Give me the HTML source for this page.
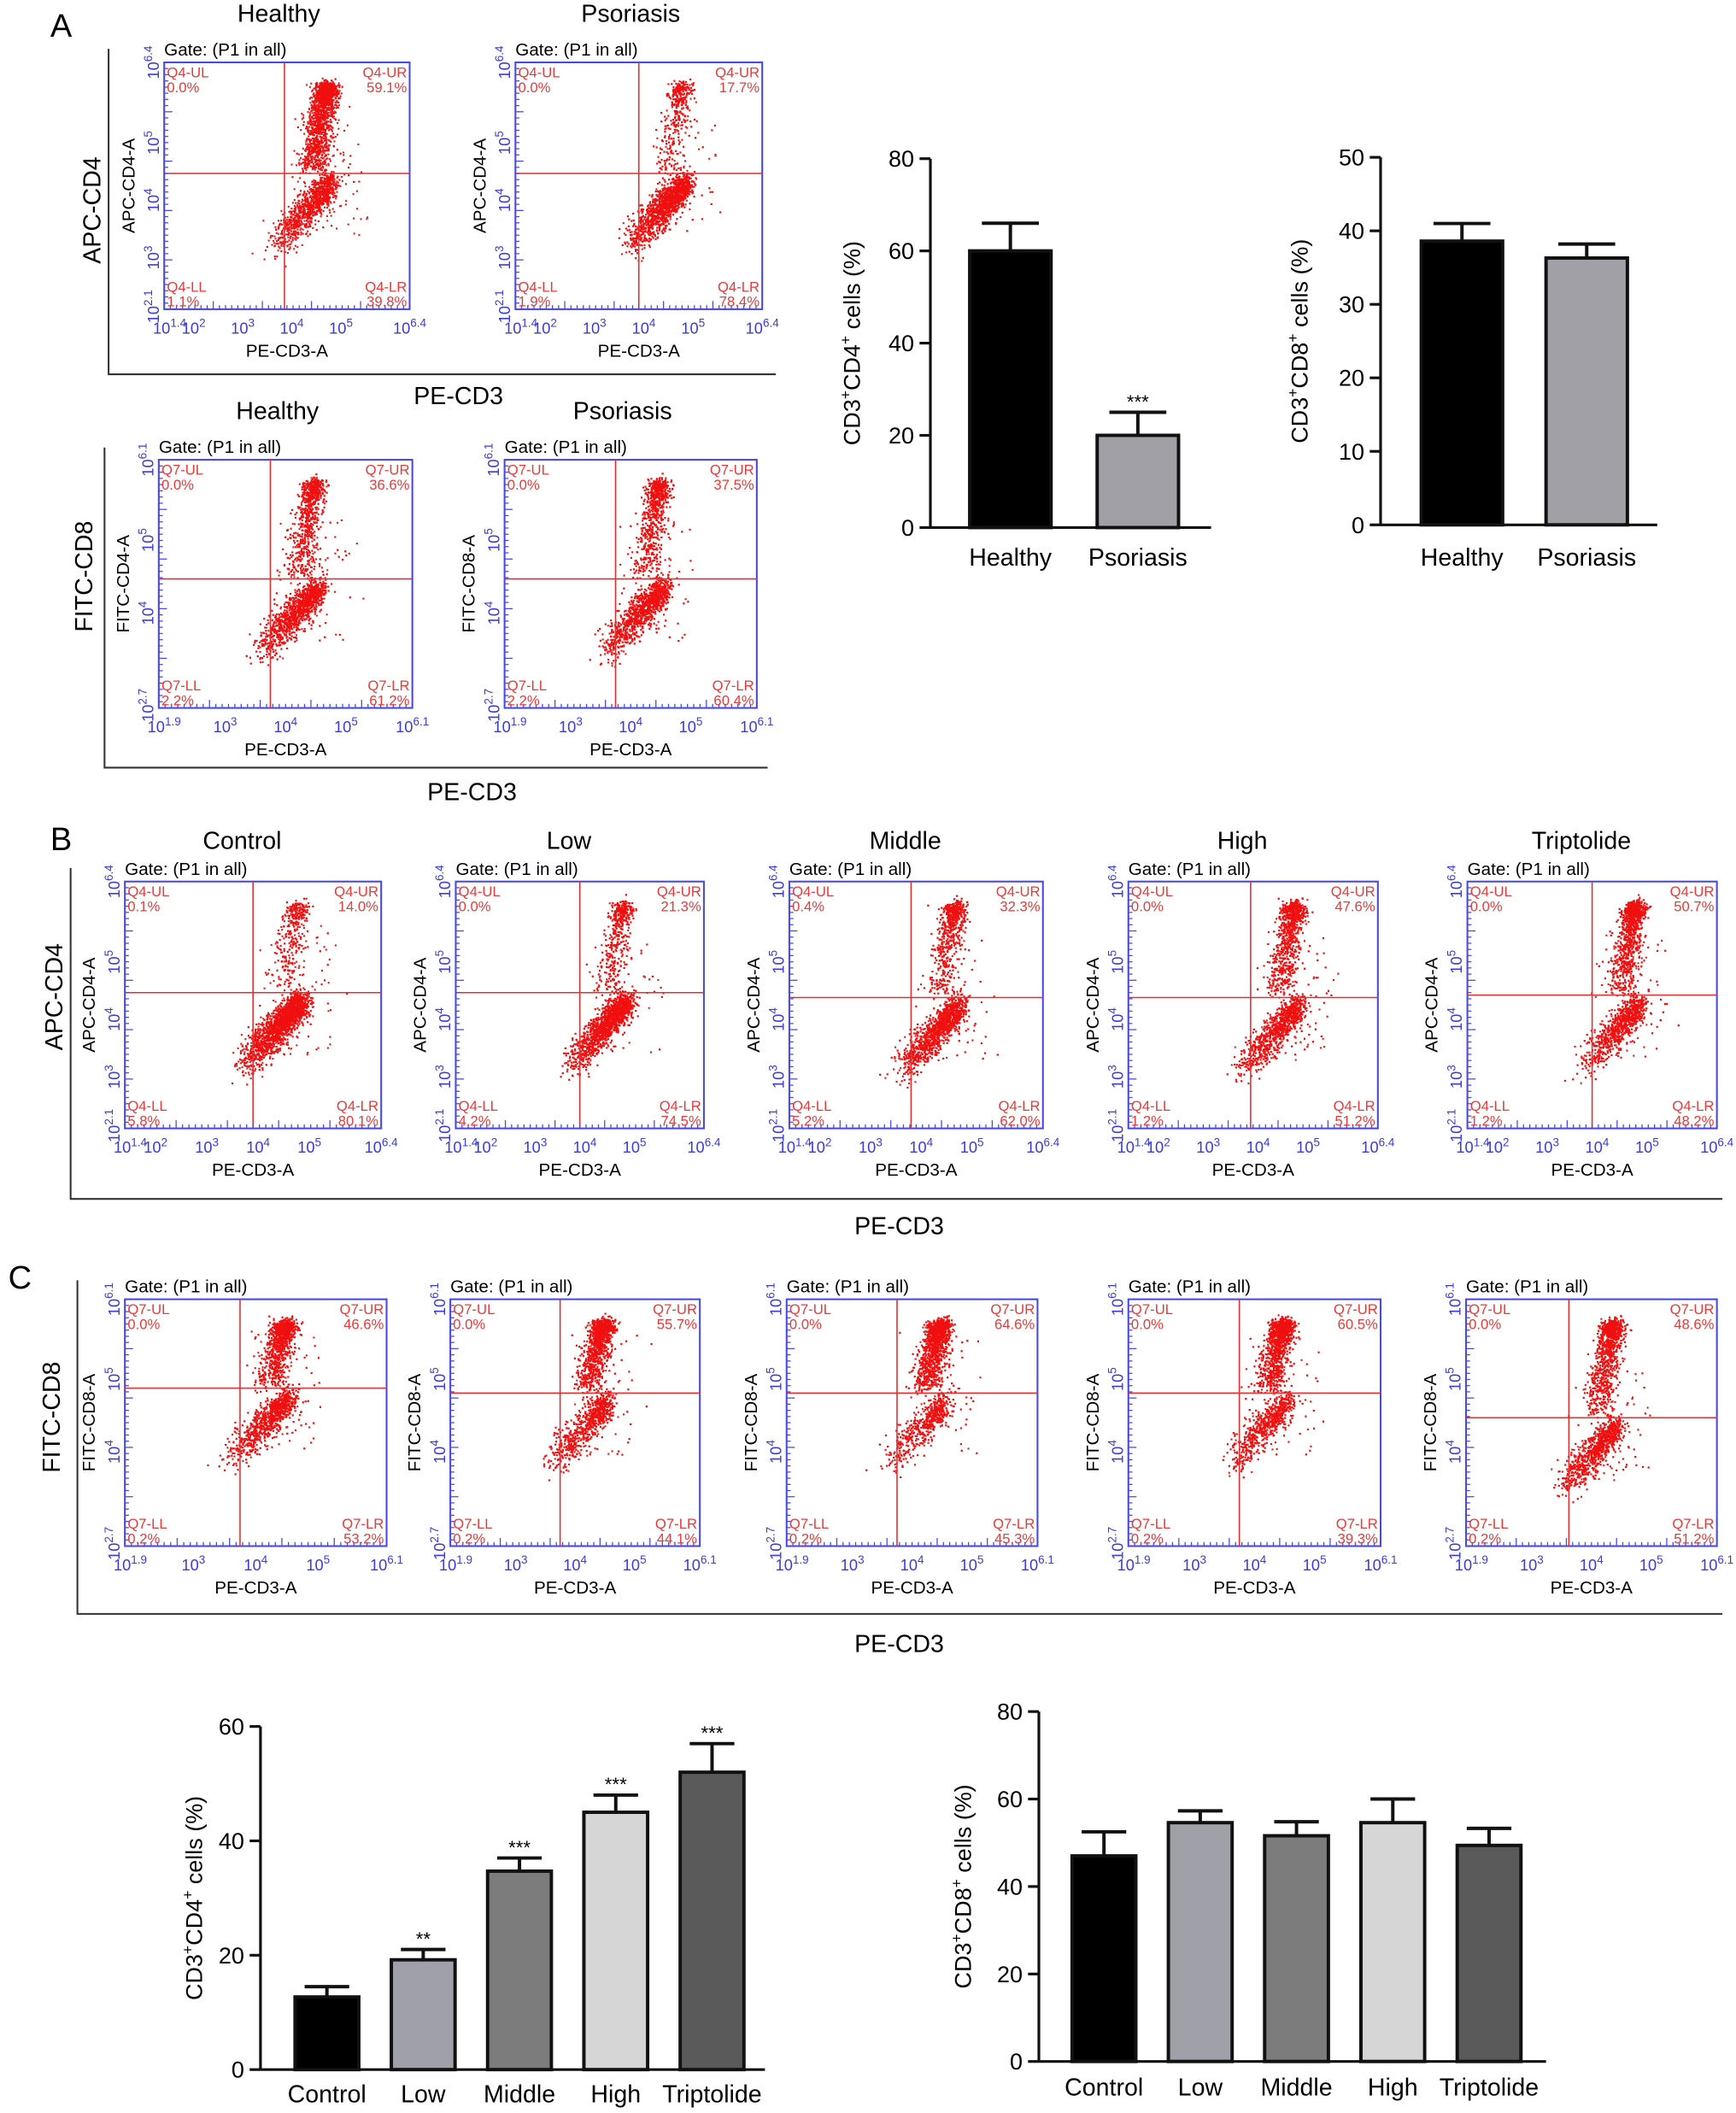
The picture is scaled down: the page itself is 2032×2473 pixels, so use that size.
<!DOCTYPE html>
<html><head><meta charset="utf-8">
<style>
html,body{margin:0;padding:0;background:#fff;}
svg{display:block;font-family:"Liberation Sans",Arial,sans-serif;}
</style></head>
<body>
<svg id="fig" width="2032" height="2473" viewBox="0 0 1280 1558" xmlns="http://www.w3.org/2000/svg">
<rect width="1280" height="1558" fill="#fff"/>
<g id="static" font-size="20">
<text x="37" y="27" font-size="24">A</text>
<text x="37" y="627" font-size="24">B</text>
<text x="6" y="950" font-size="24">C</text>
</g>
<g id="flows"></g>
<g id="bars"></g>
</svg>
<script>
const NS="http://www.w3.org/2000/svg";
const svg=document.getElementById('fig');
const flows=document.getElementById('flows');
const barsG=document.getElementById('bars');
function mk(tag,attrs,parent,txt){const e=document.createElementNS(NS,tag);for(const k in attrs)e.setAttribute(k,attrs[k]);if(txt!==undefined)e.textContent=txt;(parent||svg).appendChild(e);return e;}

// ---------- Flow panel data ----------
const flowTitles=["Healthy","Psoriasis","Healthy","Psoriasis","Control","Low","Middle","High","Triptolide","","","","",""];
const flowUL=["0.0%","0.0%","0.0%","0.0%","0.1%","0.0%","0.4%","0.0%","0.0%","0.0%","0.0%","0.0%","0.0%","0.0%"];
const flowUR=["59.1%","17.7%","36.6%","37.5%","14.0%","21.3%","32.3%","47.6%","50.7%","46.6%","55.7%","64.6%","60.5%","48.6%"];
const flowLL=["1.1%","1.9%","2.2%","2.2%","5.8%","4.2%","5.2%","1.2%","1.2%","0.2%","0.2%","0.2%","0.2%","0.2%"];
const flowLR=["39.8%","78.4%","61.2%","60.4%","80.1%","74.5%","62.0%","51.2%","48.2%","53.2%","44.1%","45.3%","39.3%","51.2%"];
const flowType=["cd4","cd4","cd8","cd8","cd4","cd4","cd4","cd4","cd4","cd8","cd8","cd8","cd8","cd8"];

const boxes=[[121,46,181,182],[380,46,182,182],[117,339,187,183],[372,339,186,183],
[92,650,189,182],[336,650,183,182],[582,650,187,182],[832,650,184,182],[1082,650,184,182],
[92,958,193,182],[332,958,184,182],[580,958,185,182],[832,958,186,182],[1081,958,185,182]];
const gates=[[0.49,0.45],[0.5,0.45],[0.44,0.48],[0.44,0.48],[0.5,0.45],[0.5,0.45],[0.48,0.47],[0.49,0.47],[0.5,0.46],
[0.44,0.36],[0.44,0.38],[0.44,0.38],[0.44,0.38],[0.41,0.48]];

let seed=12345;
function rnd(){seed=(seed*1103515245+12345)%2147483648;return seed/2147483648;}
function gauss(){let u=rnd()||1e-6,v=rnd();return Math.sqrt(-2*Math.log(u))*Math.cos(2*Math.PI*v);}
function sup(parent,x,y,base,exp,anchor,rot){
  const t=mk('text',{x:x,y:y,'text-anchor':anchor||'middle',fill:'#3b3bdb','font-size':11.5},parent);
  if(rot)t.setAttribute('transform',`rotate(-90 ${x} ${y})`);
  mk('tspan',{},t,base);mk('tspan',{dy:-5,'font-size':8.5},t,exp);
  return t;
}
function drawFlow(i){
  const [x,y,w,h]=boxes[i];const [gx,gy]=gates[i];
  const g=mk('g',{},flows);
  
  
  if(flowTitles[i]){const t=mk('text',{x:x+w/2+(i<4?-6:-8),y:y-24-(i<4?6:0),'text-anchor':'middle','font-size':18},g,flowTitles[i]);}
  mk('text',{x:x,y:y-5,'font-size':13},g,'Gate: (P1 in all)');
  const q=flowType[i]==='cd8'?'Q7':'Q4';
  const ur=parseFloat(flowUR[i])/100;
  const N=3200;const dots=mk('g',{fill:'#f01010'},g);
  for(let k=0;k<N;k++){
    let px,py;
    const r=rnd();
    if(r<ur){ // upper cluster, dense near top
      const t=Math.pow(rnd(),2.2);
      const top=0.1;
      py=top+t*(gy-top-0.02)+gauss()*0.015;
      px=gx+0.17-t*0.06+gauss()*(0.022+0.01*t);
    } else if(r<ur+0.04){ // sparse scatter
      px=gx+0.05+rnd()*0.25+gauss()*0.03;py=gy-0.25+rnd()*0.5;
    } else { // lower diagonal blob
      const t=Math.pow(rnd(),0.55);
      const x0=gx-0.05,y0=gy+0.3,x1=gx+0.19,y1=gy+0.03;
      px=x0+(x1-x0)*t+gauss()*0.022*(1.4-0.5*t);py=y0+(y1-y0)*t+gauss()*0.028*(1.4-0.5*t);
    }
    if(px<0.01||px>0.99||py<0.02||py>0.99)continue;
    mk('rect',{x:(x+px*w).toFixed(1),y:(y+py*h).toFixed(1),width:1.3,height:1.3},dots);
  }
  mk('rect',{x:x,y:y,width:w,height:h,fill:'none',stroke:'#4848e8','stroke-width':1.3},g);
  mk('line',{x1:x+gx*w,x2:x+gx*w,y1:y,y2:y+h,stroke:'#e03030','stroke-width':1},g);
  mk('line',{x1:x,x2:x+w,y1:y+gy*h,y2:y+gy*h,stroke:'#e03030','stroke-width':1},g);
  for(let k=0;k<=40;k++){
    const tx=x+k*w/40;mk('line',{x1:tx,x2:tx,y1:y+h,y2:y+h-(k%8===0?6:3),stroke:'#4848e8','stroke-width':0.8},g);
    const ty=y+k*h/40;mk('line',{x1:x,x2:x+(k%8===0?6:3),y1:ty,y2:ty,stroke:'#4848e8','stroke-width':0.8},g);
  }
  const qs={fill:'#e83a3a','font-size':10.5};
  mk('text',Object.assign({x:x+2,y:y+11},qs),g,q+'-UL');
  mk('text',Object.assign({x:x+2,y:y+22},qs),g,flowUL[i]);
  mk('text',Object.assign({x:x+w-2,y:y+11,'text-anchor':'end'},qs),g,q+'-UR');
  mk('text',Object.assign({x:x+w-2,y:y+22,'text-anchor':'end'},qs),g,flowUR[i]);
  mk('text',Object.assign({x:x+2,y:y+h-13},qs),g,q+'-LL');
  mk('text',Object.assign({x:x+2,y:y+h-2},qs),g,flowLL[i]);
  mk('text',Object.assign({x:x+w-2,y:y+h-13,'text-anchor':'end'},qs),g,q+'-LR');
  mk('text',Object.assign({x:x+w-2,y:y+h-2,'text-anchor':'end'},qs),g,flowLR[i]);
  let xr,xt,yr,yt;
  if(flowType[i]==='cd4'){xr=[1.4,6.4];xt=[['1.4',1.4],['2',2],['3',3],['4',4],['5',5],['6.4',6.4]];yr=[2.1,6.4];yt=[['2.1',2.1],['3',3],['4',4],['5',5],['6.4',6.4]];}
  else {xr=[1.9,6.1];xt=[['1.9',1.9],['3',3],['4',4],['5',5],['6.1',6.1]];yr=[2.7,6.1];yt=[['2.7',2.7],['4',4],['5',5],['6.1',6.1]];}
  xt.forEach(([s,v])=>{const px=x+(v-xr[0])/(xr[1]-xr[0])*w;sup(g,px+(v===xr[0]?4:0),y+h+18,'10',s,'middle');});
  yt.forEach(([s,v])=>{const py=y+h-(v-yr[0])/(yr[1]-yr[0])*h;sup(g,x-4,py+(v===yr[0]?-2:0),'10',s,'middle',true);});
  mk('text',{x:x+w/2,y:y+h+35,'text-anchor':'middle','font-size':13},g,'PE-CD3-A');
  const yl=flowType[i]==='cd8'?((i===2)?'FITC-CD4-A':'FITC-CD8-A'):'APC-CD4-A';
  mk('text',{x:x-22,y:y+h/2,'text-anchor':'middle','font-size':13,transform:`rotate(-90 ${x-22} ${y+h/2})`},g,yl);
}
for(let i=0;i<boxes.length;i++)drawFlow(i);

const br=[[80,36,276,572,'PE-CD3',338,298,'APC-CD4',74,155],[77,330,566,566,'PE-CD3',348,590,'FITC-CD8',68,425],
[52,640,884,1270,'PE-CD3',663,910,'APC-CD4',46,735],[57,944,1190,1270,'PE-CD3',663,1218,'FITC-CD8',44,1045]];
br.forEach((b,k)=>{
  const g=mk('g',{},svg);
  
  
  mk('polyline',{points:`${b[0]},${b[1]} ${b[0]},${b[2]} ${b[3]},${b[2]}`,fill:'none',stroke:'#333','stroke-width':1.3},g);
  mk('text',{x:b[5],y:b[6],'text-anchor':'middle','font-size':18},g,b[4]);
  mk('text',{x:b[8],y:b[9],'text-anchor':'middle','font-size':18,transform:`rotate(-90 ${b[8]} ${b[9]})`},g,b[7]);
});

// ---------- Bar charts data ----------
const a1Cats=["Healthy","Psoriasis"];const a1Vals=[60,20];const a1Errs=[66,25];const a1Stars=["","***"];const a1Ticks=[0,20,40,60,80];
const a2Cats=["Healthy","Psoriasis"];const a2Vals=[38.6,36.3];const a2Errs=[41,38.2];const a2Stars=["",""];const a2Ticks=[0,10,20,30,40,50];
const c1Cats=["Control","Low","Middle","High","Triptolide"];const c1Vals=[12.7,19.2,34.7,45,52];const c1Errs=[14.5,21,37,48,57];const c1Stars=["","**","***","***","***"];const c1Ticks=[0,20,40,60];
const c2Cats=["Control","Low","Middle","High","Triptolide"];const c2Vals=[47,54.6,51.6,54.6,49.4];const c2Errs=[52.5,57.3,54.8,60,53.3];const c2Stars=["","","","",""];const c2Ticks=[0,20,40,60,80];

function barChart(o){
  const g=mk('g',{},barsG);
  
  
  const yMax=o.ticks[o.ticks.length-1];
  const Y=v=>o.y0-(v/yMax)*(o.y0-o.yT);
  o.ticks.forEach(t=>{mk('line',{x1:o.ax-8,x2:o.ax,y1:Y(t),y2:Y(t),stroke:'#111','stroke-width':2},g);
    mk('text',{x:o.ax-12,y:Y(t)+6,'text-anchor':'end','font-size':17},g,String(t));});
  o.cats.forEach((c,i)=>{
    const cx=o.c0+i*o.step;
    const ey=Y(o.errs[i]);
    mk('line',{x1:cx,x2:cx,y1:Y(o.vals[i]),y2:ey,stroke:'#111','stroke-width':2.5},g);
    mk('line',{x1:cx-o.bw*0.35,x2:cx+o.bw*0.35,y1:ey,y2:ey,stroke:'#111','stroke-width':2.5},g);
    const b=mk('rect',{x:cx-o.bw/2,y:Y(o.vals[i]),width:o.bw,height:o.y0-Y(o.vals[i]),fill:o.colors[i],stroke:'#111','stroke-width':2.5},g);
    
    
    mk('text',{x:cx,y:o.y0+o.ly,'text-anchor':'middle','font-size':18},g,c);
    if(o.stars[i])mk('text',{x:cx,y:ey-3,'text-anchor':'middle','font-size':14},g,o.stars[i]);
  });
  mk('line',{x1:o.ax,x2:o.ax,y1:o.yT,y2:o.y0,stroke:'#111','stroke-width':2},g);
  mk('line',{x1:o.ax,x2:o.xEnd,y1:o.y0,y2:o.y0,stroke:'#111','stroke-width':2},g);
  const lx=o.lx,ly=(o.yT+o.y0)/2;
  const t=mk('text',{x:lx,y:ly,'text-anchor':'middle','font-size':17,transform:`rotate(-90 ${lx} ${ly})`},g);
  mk('tspan',{},t,'CD3');mk('tspan',{dy:-7,'font-size':11},t,'+');mk('tspan',{dy:7},t,o.lab);mk('tspan',{dy:-7,'font-size':11},t,'+');mk('tspan',{dy:7},t,' cells (%)');
}
barChart({name:'chart-a-cd4',ax:686,yT:117,y0:389,xEnd:893,ticks:a1Ticks,cats:a1Cats,vals:a1Vals,errs:a1Errs,stars:a1Stars,c0:745,step:94,bw:60,colors:['#000','#a0a0a6'],ly:28,lx:634,lab:'CD4'});
barChart({name:'chart-a-cd8',ax:1018,yT:116,y0:387,xEnd:1222,ticks:a2Ticks,cats:a2Cats,vals:a2Vals,errs:a2Errs,stars:a2Stars,c0:1078,step:92,bw:60,colors:['#000','#a0a0a6'],ly:30,lx:964,lab:'CD8'});
barChart({name:'chart-c-cd4',ax:192,yT:1273,y0:1526,xEnd:564,ticks:c1Ticks,cats:c1Cats,vals:c1Vals,errs:c1Errs,stars:c1Stars,c0:241,step:71,bw:47,colors:['#000','#a0a0a8','#7c7c7c','#d6d6d6','#5a5a5a'],ly:24,lx:149,lab:'CD4'});
barChart({name:'chart-c-cd8',ax:766,yT:1262,y0:1520,xEnd:1140,ticks:c2Ticks,cats:c2Cats,vals:c2Vals,errs:c2Errs,stars:c2Stars,c0:814,step:71,bw:47,colors:['#000','#a0a0a8','#7c7c7c','#d6d6d6','#5a5a5a'],ly:25,lx:716,lab:'CD8'});
</script>
</body></html>
